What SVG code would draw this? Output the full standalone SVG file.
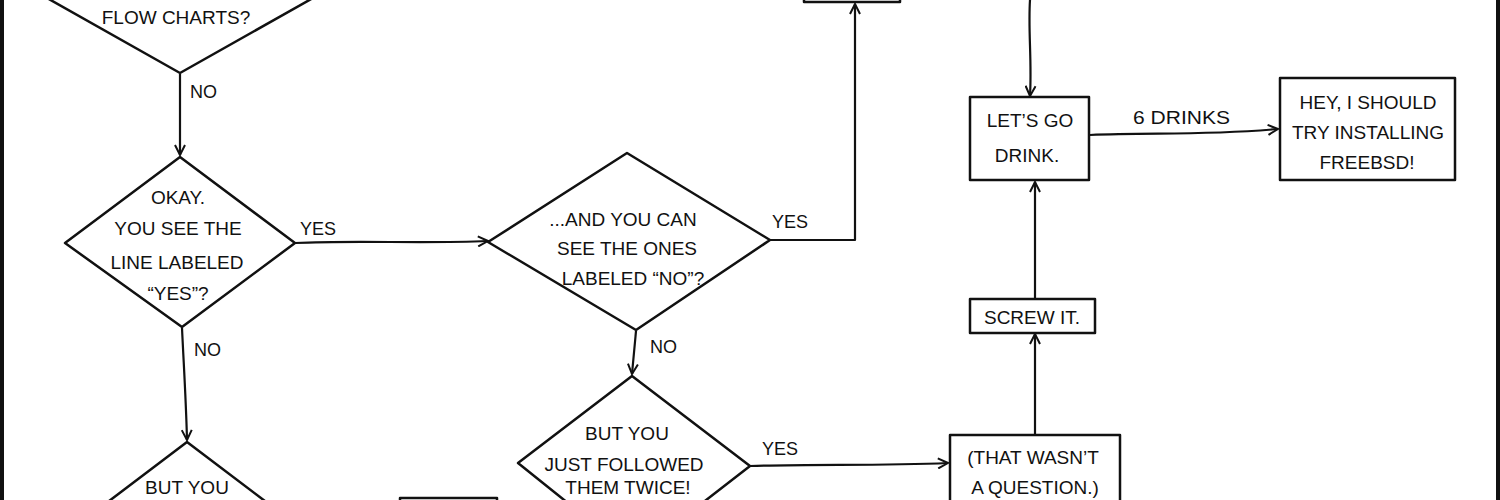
<svg xmlns="http://www.w3.org/2000/svg" width="1500" height="500" viewBox="0 0 1500 500">
<style>
.n{fill:#fff;stroke:#111;stroke-width:2.5;stroke-linejoin:round}
.t{font-family:"Liberation Sans","DejaVu Sans",sans-serif;font-size:19px;text-anchor:middle;fill:#111}
.lb{font-family:"Liberation Sans","DejaVu Sans",sans-serif;font-size:18px;fill:#111}
.e{fill:none;stroke:#111;stroke-width:2.2;stroke-linejoin:round}
.b{stroke:#111;stroke-width:4}
</style>
<defs>
<marker id="ah" viewBox="0 0 12 12" refX="11" refY="6" markerWidth="12" markerHeight="12" markerUnits="userSpaceOnUse" orient="auto">
<path d="M1,1 L11,6 L1,11" fill="none" stroke="#111" stroke-width="2"/>
</marker>
</defs>
<rect width="1500" height="500" fill="#fff"/>
<line class="b" x1="2" y1="0" x2="2" y2="500"/>
<line class="b" x1="1498" y1="0" x2="1498" y2="500"/>

<g id="connectors">
<path class="e" d="M180,74 L180,155" marker-end="url(#ah)"/>
<path class="e" d="M295,243 C360,240 420,244 488,241" marker-end="url(#ah)"/>
<path class="e" d="M770,240 L855,240 L855,4" marker-end="url(#ah)"/>
<path class="e" d="M1030,0 C1028,30 1032,60 1030,96" marker-end="url(#ah)"/>
<path class="e" d="M1090,135 C1150,132 1200,136 1278,129" marker-end="url(#ah)"/>
<path class="e" d="M1035,300 L1035,182" marker-end="url(#ah)"/>
<path class="e" d="M1035,434 L1035,334" marker-end="url(#ah)"/>
<path class="e" d="M182,328 C184,370 186,400 187,440" marker-end="url(#ah)"/>
<path class="e" d="M636,331 L632,374" marker-end="url(#ah)"/>
<path class="e" d="M750,466 C820,464 880,466 948,463" marker-end="url(#ah)"/>
<text class="lb" x="190" y="98">NO</text>
<text class="lb" x="300" y="235">YES</text>
<text class="lb" x="194" y="356">NO</text>
<text class="lb" x="772" y="228">YES</text>
<text class="lb" x="650" y="353">NO</text>
<text class="lb" x="762" y="455">YES</text>
<text class="lb" x="1133" y="124" font-size="16" textLength="97" lengthAdjust="spacingAndGlyphs">6 DRINKS</text>
</g>

<g id="q-flowcharts">
<polygon class="n" points="8,-24 180,73 352,-24 180,-120"/>
<text class="t" x="176" y="24">FLOW CHARTS?</text>
</g>

<g id="q-see-yes">
<polygon class="n" points="180,157 295,243 182,327 65,243"/>
<text class="t" x="178" y="204">OKAY.</text>
<text class="t" x="178" y="235">YOU SEE THE</text>
<text class="t" x="177" y="269">LINE LABELED</text>
<text class="t" x="178" y="300">“YES”?</text>
</g>

<g id="q-see-no">
<polygon class="n" points="627,153 770,240 636,330 488,242"/>
<text class="t" x="623" y="226">...AND YOU CAN</text>
<text class="t" x="627" y="255">SEE THE ONES</text>
<text class="t" x="633" y="285" font-size="18">LABELED “NO”?</text>
</g>

<g id="q-followed">
<polygon class="n" points="632,376 750,466 634,556 518,463"/>
<text class="t" x="627" y="440">BUT YOU</text>
<text class="t" x="624" y="471">JUST FOLLOWED</text>
<text class="t" x="628" y="494">THEM TWICE!</text>
</g>

<g id="q-but-you">
<polygon class="n" points="187,442 290,520 187,598 84,520"/>
<text class="t" x="187" y="494">BUT YOU</text>
</g>

<g id="box-top">
<rect class="n" x="804" y="-40" width="96" height="42"/>
</g>

<g id="box-bottom">
<rect class="n" x="400" y="498" width="97" height="40"/>
</g>

<g id="box-drink">
<rect class="n" x="970" y="97" width="119" height="83"/>
<text class="t" x="1030" y="127" font-size="20">LET’S GO</text>
<text class="t" x="1027" y="162" font-size="20">DRINK.</text>
</g>

<g id="box-freebsd">
<rect class="n" x="1280" y="78" width="175" height="102"/>
<text class="t" x="1368" y="109">HEY, I SHOULD</text>
<text class="t" x="1368" y="139">TRY INSTALLING</text>
<text class="t" x="1367" y="169">FREEBSD!</text>
</g>

<g id="box-screw">
<rect class="n" x="970" y="299" width="125" height="34"/>
<text class="t" x="1032" y="324" font-size="20">SCREW IT.</text>
</g>

<g id="box-question">
<rect class="n" x="950" y="435" width="170" height="80"/>
<text class="t" x="1033" y="464">(THAT WASN’T</text>
<text class="t" x="1035" y="494">A QUESTION.)</text>
</g>
</svg>
